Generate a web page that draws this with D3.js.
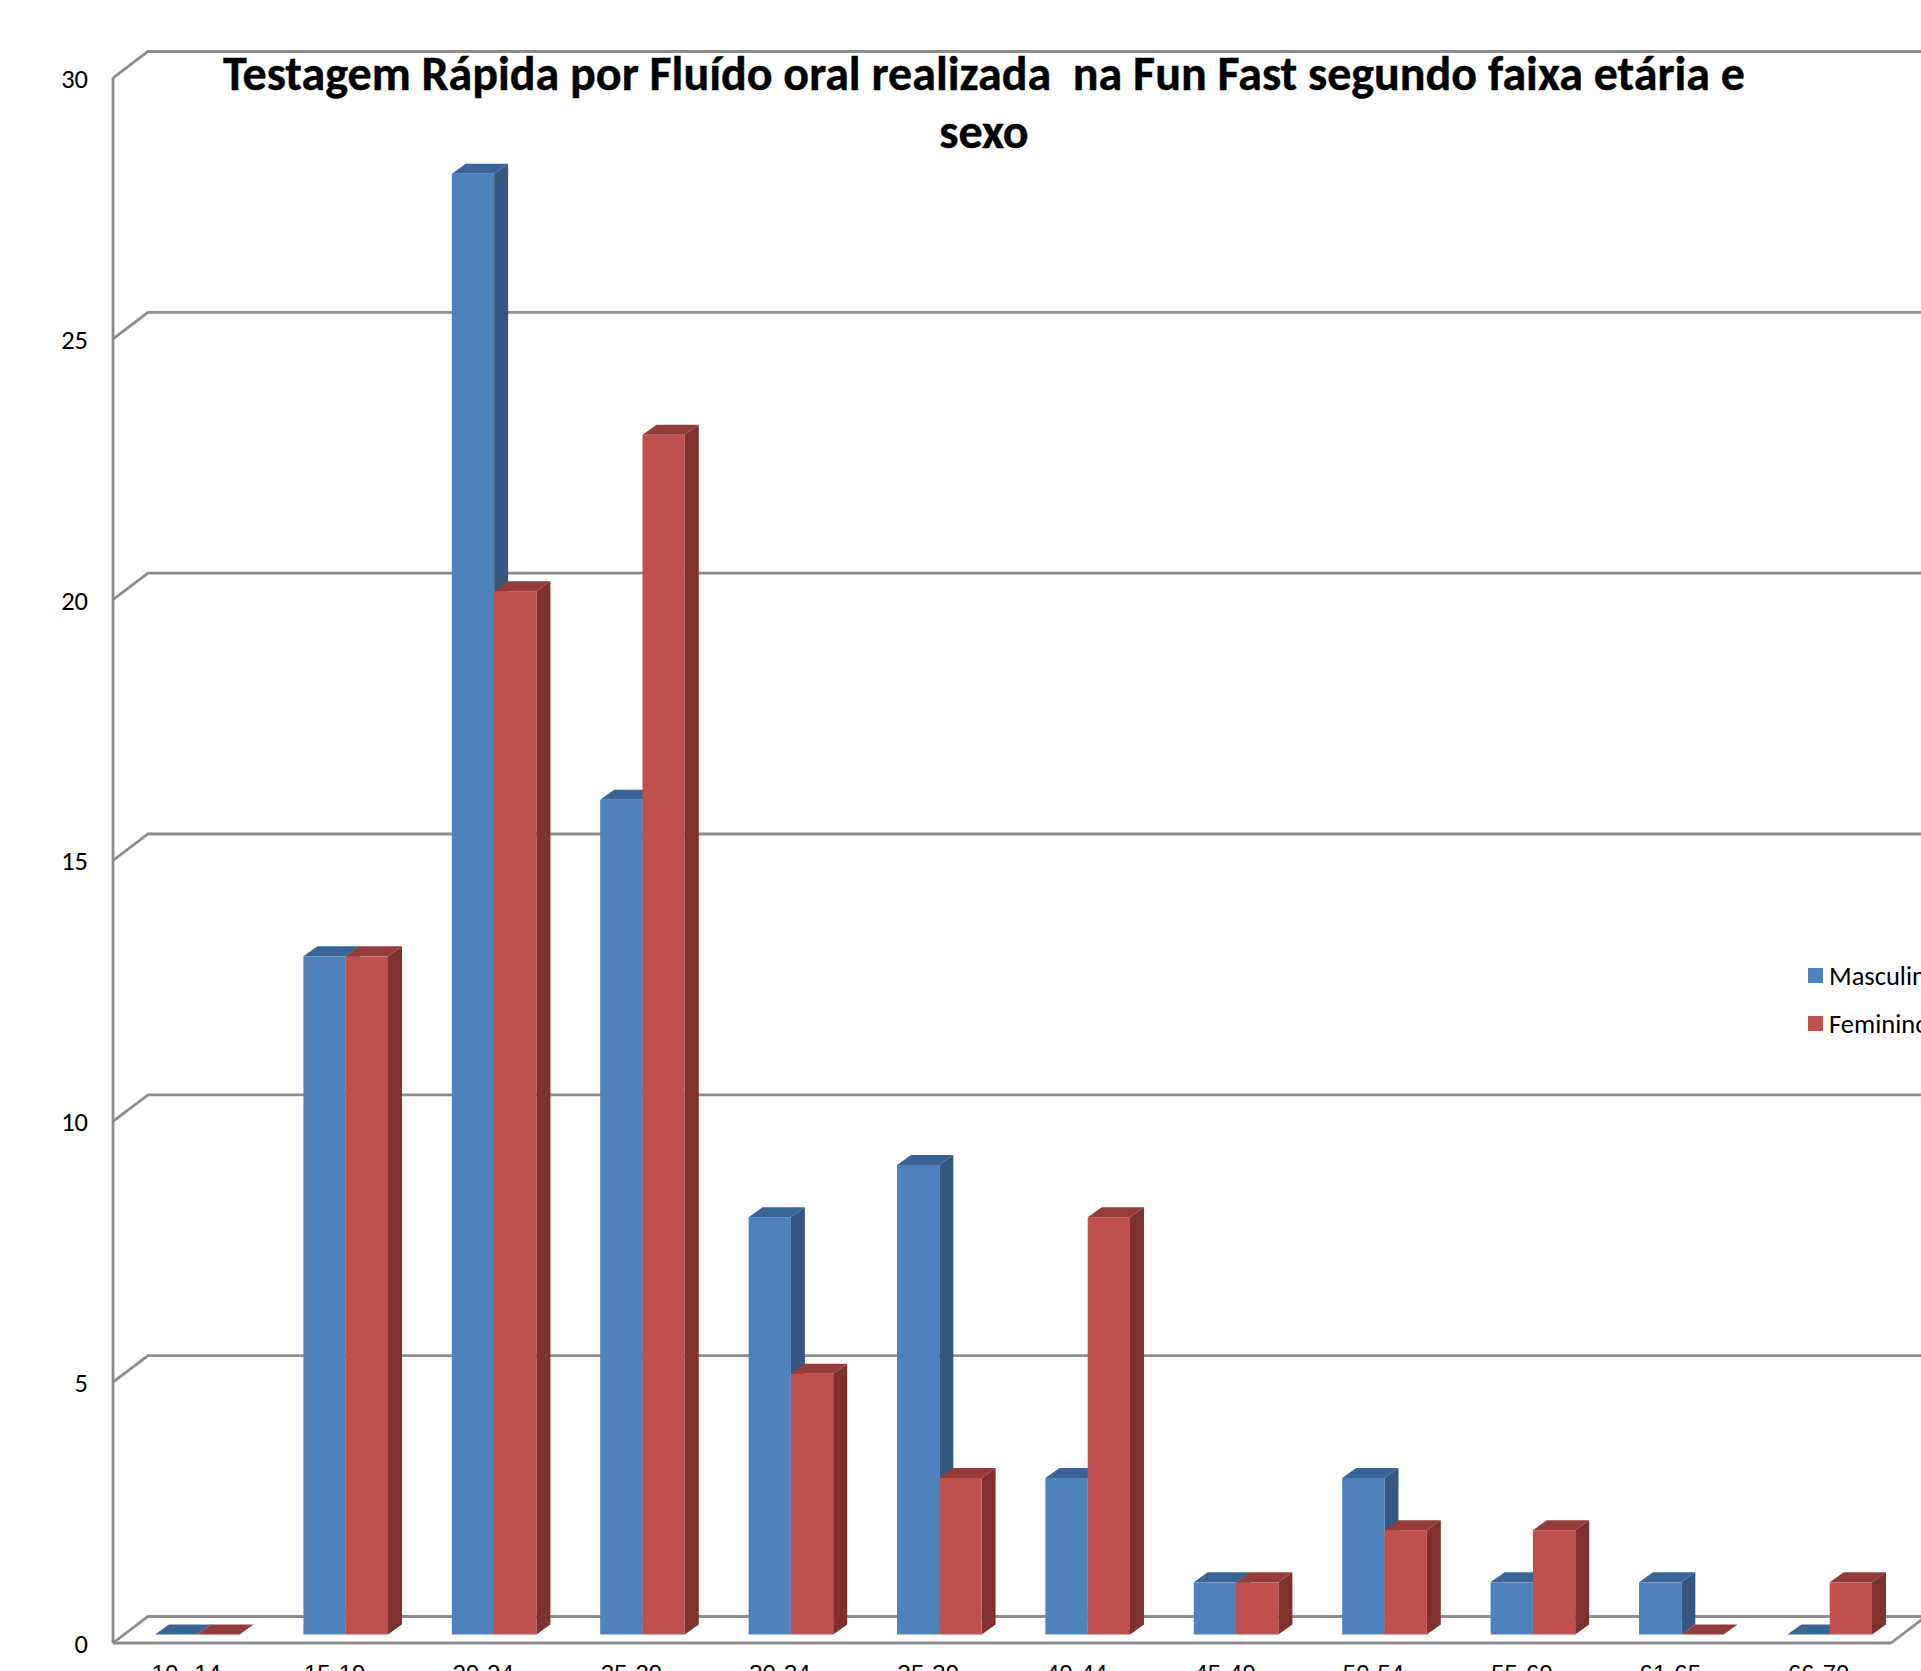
<!DOCTYPE html>
<html lang="pt">
<head>
<meta charset="utf-8">
<script src="https://cdn.jsdelivr.net/npm/d3@7"></script>
<style>
  html, body { margin: 0; padding: 0; background: #fff; overflow: hidden; }
  svg { display: block; font-family: Carlito, Calibri, Lato, sans-serif; }
</style>
</head>
<body>
<div id="chart"></div>
<script>
const ageGroups = ["10--14", "15-19", "20-24", "25-29", "30-34", "35-39", "40-44", "45-49", "50-54", "55-60", "61-65", "66-70"];
const masculino = [0, 13, 28, 16, 8, 9, 3, 1, 3, 1, 1, 0];
const feminino = [0, 13, 20, 23, 5, 3, 8, 1, 2, 2, 0, 1];
const yTicks = [0, 5, 10, 15, 20, 25, 30];
const titleLines = ["Testagem Rápida por Fluído oral realizada  na Fun Fast segundo faixa etária e", "sexo"];
const seriesNames = ["Masculino", "Feminino"];

const width = 1921, height = 1671;
const wallDx = 35, wallDy = -26.5;     // front-to-back offset of the chart box
const barDx = 14, barDy = -10;         // extrusion of each 3D bar
const barLift = -8.5;                  // bars stand slightly behind the front floor edge
const gridColor = "#8c8c8c";

const palette = {
  Masculino: { front: "#4f81bd", top: "#3b6496", side: "#35567f" },
  Feminino: { front: "#c0504d", top: "#943c3a", side: "#7f3130" }
};

const svg = d3.select("#chart").append("svg")
  .attr("width", width).attr("height", height)
  .attr("viewBox", [0, 0, width, height]);

const y = d3.scaleLinear().domain([0, 30]).range([1643, 78]);
const x = d3.scaleBand().domain(ageGroups).range([155, 155 + 148.4 * ageGroups.length]);
const inner = d3.scaleBand().domain(seriesNames).range([0, 84.6]);
const frontRight = 1891;

// Box: gridlines on the back wall, their returns on the side wall, and the floor
const box = svg.append("g").attr("fill", "none").attr("stroke", gridColor).attr("stroke-width", 2.8);
yTicks.forEach(t => {
  box.append("polyline").attr("points", [
    [113, y(t)],
    [113 + wallDx, y(t) + wallDy],
    [width + 2, y(t) + wallDy]
  ].join(" "));
});
box.append("line").attr("x1", 113).attr("x2", 113).attr("y1", y(30)).attr("y2", y(0));
box.append("line").attr("x1", 113).attr("x2", frontRight).attr("y1", y(0)).attr("y2", y(0));
box.append("line").attr("x1", frontRight).attr("x2", frontRight + wallDx).attr("y1", y(0)).attr("y2", y(0) + wallDy);

// Value axis
const axis = svg.append("g").attr("transform", "translate(113,1)")
  .call(d3.axisLeft(y).tickValues(yTicks).tickSize(0).tickPadding(25));
axis.select(".domain").remove();
axis.selectAll("text").attr("font-size", 26.5).attr("font-family", "Carlito, Calibri, Lato, sans-serif").attr("fill", "#000");

// Category labels; the lower part runs past the bottom of the page
svg.append("g").selectAll("text").data(ageGroups).join("text")
  .attr("x", d => x(d) + inner.bandwidth() - 11)
  .attr("y", 1682)
  .attr("text-anchor", "middle")
  .attr("font-family", "'Liberation Sans', Arial, sans-serif")
  .attr("font-size", 24)
  .text(d => d);

// Extruded bars, drawn pair by pair so each red bar covers the blue side face
function drawBar(g, name, cat, value) {
  const c = palette[name];
  const left = x(cat) + inner(name), w = inner.bandwidth();
  const base = y(0) + barLift, top = y(value) + barLift;
  g.append("path").attr("fill", c.side).attr("d", d3.line()([
    [left + w, top], [left + w + barDx, top + barDy], [left + w + barDx, base + barDy], [left + w, base]
  ]) + "Z");
  g.append("path").attr("fill", c.top).attr("d", d3.line()([
    [left, top], [left + barDx, top + barDy], [left + w + barDx, top + barDy], [left + w, top]
  ]) + "Z");
  if (value > 0) {
    g.append("rect").attr("fill", c.front)
      .attr("x", left).attr("y", top).attr("width", w).attr("height", base - top);
  }
}
const bars = svg.append("g");
ageGroups.forEach((cat, i) => {
  const g = bars.append("g");
  drawBar(g, "Masculino", cat, masculino[i]);
  drawBar(g, "Feminino", cat, feminino[i]);
});

// Title
svg.append("g").selectAll("text").data(titleLines).join("text")
  .attr("x", 984)
  .attr("y", (d, i) => 90 + i * 58)
  .attr("text-anchor", "middle")
  .attr("font-size", 48)
  .attr("font-weight", 700)
  .attr("stroke", "#000")
  .attr("stroke-width", 0.4)
  .style("white-space", "pre")
  .text(d => d);

// Legend
const legend = svg.append("g").selectAll("g").data(seriesNames).join("g")
  .attr("transform", (d, i) => `translate(1808,${968 + i * 48})`);
legend.append("rect").attr("width", 15).attr("height", 15).attr("fill", d => palette[d].front);
legend.append("text").attr("x", 21).attr("y", 17).attr("font-size", 26.5).text(d => d);
</script>
</body>
</html>
